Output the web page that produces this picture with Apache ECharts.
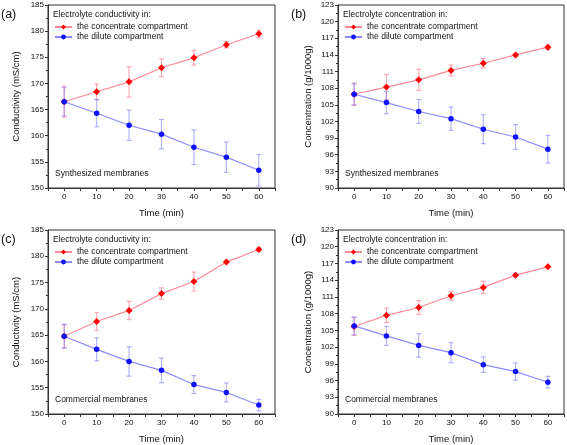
<!DOCTYPE html>
<html>
<head>
<meta charset="utf-8">
<script src="https://cdn.jsdelivr.net/npm/echarts@6/dist/echarts.min.js"></script>
<style>html,body{margin:0;padding:0;background:#fff;}#c{width:567px;height:445px;}</style>
</head>
<body>
<div id="c"></div>
<script>
// ---- data ----
const time = [0, 10, 20, 30, 40, 50, 60];

const aConc    = [166.5, 168.4, 170.3, 173.0, 174.9, 177.4, 179.5];
const aConcErr = [3.0, 1.5, 2.9, 1.7, 1.4, 0.6, 0.7];
const aDil     = [166.5, 164.3, 162.0, 160.3, 157.8, 155.9, 153.4];
const aDilErr  = [2.7, 2.6, 2.9, 2.8, 3.3, 2.9, 3.0];

const bConc    = [106.9, 108.2, 109.5, 111.2, 112.5, 114.0, 115.4];
const bConcErr = [2.0, 2.3, 1.9, 1.0, 0.85, 0.3, 0.4];
const bDil     = [106.9, 105.4, 103.8, 102.5, 100.6, 99.2, 97.0];
const bDilErr  = [1.9, 2.0, 2.15, 2.1, 2.6, 2.25, 2.5];

const cConc    = [164.8, 167.6, 169.7, 172.9, 175.2, 178.9, 181.3];
const cConcErr = [2.2, 1.7, 1.75, 1.1, 1.8, 0.3, 0.3];
const cDil     = [164.8, 162.3, 160.0, 158.3, 155.6, 154.1, 151.7];
const cDilErr  = [2.3, 2.2, 2.8, 2.35, 1.7, 1.8, 1.1];

const dConc    = [105.7, 107.7, 109.1, 111.2, 112.7, 114.9, 116.4];
const dConcErr = [1.6, 1.3, 1.25, 0.8, 1.1, 0.2, 0.2];
const dDil     = [105.8, 104.0, 102.3, 101.0, 98.85, 97.6, 95.7];
const dDilErr  = [1.6, 1.7, 2.1, 1.8, 1.4, 1.55, 1.05];

const nameConc = 'the concentrate compartment';
const nameDil = 'the dilute compartment';
const panelLabels = ['(a)', '(b)', '(c)', '(d)'];
const legendTitles = ['Electrolyte conductivity in:', 'Electrolyte concentration in:', 'Electrolyte conductivity in:', 'Electrolyte concentration in:'];
const membraneLabels = ['Synthesized membranes', 'Synthesized membranes', 'Commercial membranes', 'Commercial membranes'];
const yNames = ['Conductivity (mS/cm)', 'Concentration (g/1000g)', 'Conductivity (mS/cm)', 'Concentration (g/1000g)'];
const xName = 'Time (min)';
const yRanges = [[150, 185, 5], [90, 123, 3], [150, 185, 5], [90, 123, 3]];
const xRange = [-5, 65, 5];

const panels = [
  [aConc, aConcErr, aDil, aDilErr],
  [bConc, bConcErr, bDil, bDilErr],
  [cConc, cConcErr, cDil, cDilErr],
  [dConc, dConcErr, dDil, dDilErr]
];

// ---- layout ----
const grids = [
  {left: 48, top: 5, width: 227, height: 183},
  {left: 338, top: 5, width: 227, height: 183},
  {left: 48, top: 230, width: 227, height: 184},
  {left: 338, top: 230, width: 227, height: 184}
];
const yNameGap = [27, 25, 27, 25];
const FONT = 'Liberation Sans, Arial, sans-serif';
const redMark = '#ff0000', blueMark = '#1010ff';
const redLine = '#ff8a96', blueLine = '#8c8cff';
const redErr = 'rgba(255,110,130,0.55)', blueErr = 'rgba(110,110,255,0.5)';

function errRender(color) {
  return function (params, api) {
    const x = api.value(0), lo = api.value(1), hi = api.value(2);
    const p1 = api.coord([x, lo]), p2 = api.coord([x, hi]);
    const w = 2.5;
    const st = {stroke: color, lineWidth: 1.2};
    return {type: 'group', children: [
      {type: 'line', shape: {x1: p1[0], y1: p1[1], x2: p2[0], y2: p2[1]}, style: st},
      {type: 'line', shape: {x1: p1[0] - w, y1: p1[1], x2: p1[0] + w, y2: p1[1]}, style: st},
      {type: 'line', shape: {x1: p2[0] - w, y1: p2[1], x2: p2[0] + w, y2: p2[1]}, style: st}
    ]};
  };
}

const option = {
  animation: false,
  backgroundColor: '#fff',
  textStyle: {fontFamily: FONT},
  grid: [], xAxis: [], yAxis: [], series: [], legend: [], title: []
};

panels.forEach((p, i) => {
  const g = grids[i];
  option.grid.push(Object.assign({show: true, borderColor: '#333', borderWidth: 1, backgroundColor: 'transparent'}, g));
  option.xAxis.push({
    type: 'value', gridIndex: i, min: xRange[0], max: xRange[1], interval: xRange[2],
    name: xName, nameLocation: 'middle', nameGap: 20,
    nameTextStyle: {fontSize: 9.5, color: '#111', fontFamily: FONT},
    axisLine: {show: true, onZero: false, lineStyle: {color: '#333', width: 1}},
    axisTick: {show: true, inside: false, length: 3, lineStyle: {color: '#333'}},
    axisLabel: {fontSize: 8, color: '#111', margin: 5, fontFamily: FONT,
      formatter: v => (v >= 0 && v <= 60 && v % 10 === 0) ? String(v) : ''},
    splitLine: {show: false}
  });
  const yr = yRanges[i];
  option.yAxis.push({
    type: 'value', gridIndex: i, min: yr[0], max: yr[1], interval: yr[2],
    name: yNames[i], nameLocation: 'middle', nameGap: yNameGap[i], nameRotate: 90,
    nameTextStyle: {fontSize: 9.5, color: '#111', fontFamily: FONT},
    axisLine: {show: true, onZero: false, lineStyle: {color: '#333', width: 1}},
    axisTick: {show: true, inside: false, length: 3, lineStyle: {color: '#333'}},
    minorTick: {show: true, splitNumber: 2, length: 2, lineStyle: {color: '#333'}},
    axisLabel: {fontSize: 8, color: '#111', margin: 4, fontFamily: FONT},
    splitLine: {show: false}
  });
  const [conc, concErr, dil, dilErr] = p;
  option.series.push({
    type: 'custom', xAxisIndex: i, yAxisIndex: i, z: 1, silent: true,
    renderItem: errRender(redErr), encode: {x: 0, y: [1, 2]},
    data: time.map((t, k) => [t, conc[k] - concErr[k], conc[k] + concErr[k]])
  });
  option.series.push({
    type: 'custom', xAxisIndex: i, yAxisIndex: i, z: 1, silent: true,
    renderItem: errRender(blueErr), encode: {x: 0, y: [1, 2]},
    data: time.map((t, k) => [t, dil[k] - dilErr[k], dil[k] + dilErr[k]])
  });
  option.series.push({
    name: nameConc, type: 'line', xAxisIndex: i, yAxisIndex: i, z: 3,
    data: time.map((t, k) => [t, conc[k]]),
    symbol: 'diamond', symbolSize: 7, showAllSymbol: true,
    lineStyle: {color: redLine, width: 1.2},
    itemStyle: {color: redMark}
  });
  option.series.push({
    name: nameDil, type: 'line', xAxisIndex: i, yAxisIndex: i, z: 3,
    data: time.map((t, k) => [t, dil[k]]),
    symbol: 'circle', symbolSize: 5.5, showAllSymbol: true,
    lineStyle: {color: blueLine, width: 1.2},
    itemStyle: {color: blueMark}
  });
  option.legend.push({
    data: [nameConc, nameDil], orient: 'vertical',
    left: g.left + 6, top: g.top + 17, itemWidth: 17, itemHeight: 6, itemGap: 0,
    padding: 0, selectedMode: false,
    textStyle: {fontSize: 8.5, color: '#111', fontFamily: FONT, lineHeight: 10}
  });
  option.title.push({
    text: legendTitles[i], left: g.left + 5, top: g.top + 5, padding: 0,
    textStyle: {fontSize: 8.5, fontWeight: 'normal', color: '#111', fontFamily: FONT}
  });
  option.title.push({
    text: membraneLabels[i], left: g.left + 7, top: g.top + g.height - 19, padding: 0,
    textStyle: {fontSize: 8.5, fontWeight: 'normal', color: '#111', fontFamily: FONT}
  });
  option.title.push({
    text: panelLabels[i], left: g.left - 47, top: g.top + 3, padding: 0,
    textStyle: {fontSize: 12.5, fontWeight: 'normal', color: '#111', fontFamily: FONT}
  });
});

const chart = echarts.init(document.getElementById('c'), null, {renderer: 'canvas'});
chart.setOption(option);
</script>
</body>
</html>
